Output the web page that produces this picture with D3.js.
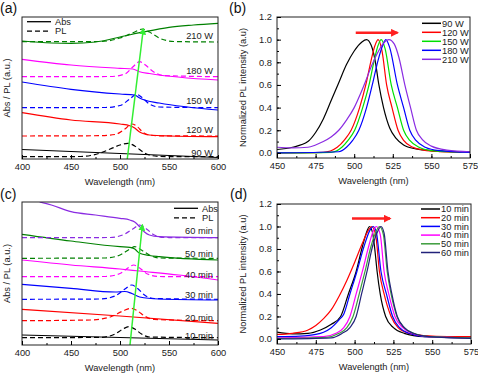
<!DOCTYPE html>
<html>
<head>
<meta charset="utf-8">
<script src="https://cdn.jsdelivr.net/npm/d3@7"></script>
<style>
body { margin: 0; background: #fff; }
svg { font-family: "Liberation Sans", Arial, sans-serif; }
</style>
</head>
<body>
<div id="chart"></div>
<script>
// ---- data ----
var powerLabels = ["90 W", "120 W", "150 W", "180 W", "210 W"];
var timeLabels = ["10 min", "20 min", "30 min", "40 min", "50 min", "60 min"];

// (a) absorbance and PL, stacked, arbitrary units
var absA = [
    [[400, 9.5], [450, 7.5], [500, 5.5], [550, 3.5], [600, 1.5]],
    [[400, 46.3], [450, 39], [500, 35], [510, 33.3], [515, 31], [520, 27], [525, 25], [530, 24], [550, 23], [600, 22.3]],
    [[400, 77], [450, 69.7], [500, 65], [515, 64], [520, 61], [525, 59], [540, 56], [600, 49]],
    [[400, 99.7], [450, 94], [500, 90.7], [513, 90], [520, 87.3], [530, 85.5], [600, 79]],
    [[400, 118], [430, 116], [450, 115.7], [475, 117], [500, 122], [525, 127.3], [550, 131.7], [575, 134], [600, 135.7]]
];
var plA = [
    [[400, 2.3], [460, 2.5], [470, 3.5], [480, 6], [490, 10], [500, 14], [508, 15.7], [515, 13], [520, 9.5], [525, 6], [530, 4], [540, 2.6], [560, 2.3], [600, 2.3]],
    [[400, 23], [480, 23.3], [495, 24.5], [505, 30], [512, 35], [518, 32], [523, 27], [530, 24], [540, 23.2], [600, 23]],
    [[400, 51.3], [485, 51.5], [500, 53.5], [510, 60], [517, 64.7], [523, 61], [530, 55], [540, 52], [600, 51.3]],
    [[400, 82.3], [490, 82.5], [505, 85], [513, 92], [520, 97.3], [526, 94], [533, 88], [545, 83.5], [600, 82.3]],
    [[400, 117.3], [480, 117.5], [500, 121], [515, 127], [523, 130], [530, 127], [540, 121], [555, 117.5], [600, 117]]
];
var labelValA = [6, 29, 58, 88, 123.3];
var guideA = [[507.4, 0], [523.8, 130]];

// (b) normalized PL vs power
var plB = [
    [[450, 0.03], [460, 0.05], [470, 0.1], [475, 0.18], [480, 0.3], [485, 0.46], [490, 0.62], [495, 0.78], [500, 0.9], [505, 0.98], [508, 1.0], [511, 0.95], [513.5, 0.82], [516, 0.6], [519, 0.4], [523, 0.22], [527, 0.13], [532, 0.07], [540, 0.035], [550, 0.02], [575, 0.01]],
    [[450, 0], [480, 0.005], [489, 0.05], [494, 0.12], [498, 0.2], [503.5, 0.4], [507.5, 0.6], [511, 0.82], [513.5, 0.95], [515.5, 1.0], [518, 0.9], [521, 0.6], [524.5, 0.4], [528.4, 0.2], [532, 0.11], [538, 0.05], [545, 0.025], [555, 0.012], [575, 0.005]],
    [[450, 0], [485, 0.005], [492, 0.05], [496, 0.11], [500.3, 0.2], [505.5, 0.4], [509.6, 0.6], [513, 0.82], [515.5, 0.95], [517.5, 1.0], [520, 0.92], [524, 0.6], [528, 0.4], [532, 0.2], [536, 0.11], [542, 0.05], [550, 0.02], [560, 0.01], [575, 0.005]],
    [[450, 0], [490, 0.01], [495, 0.05], [499, 0.11], [503, 0.2], [508, 0.4], [511.7, 0.6], [515.5, 0.82], [518.5, 0.95], [520.5, 1.0], [523, 0.93], [528, 0.6], [532, 0.4], [536, 0.2], [540, 0.11], [546, 0.05], [555, 0.02], [575, 0.005]],
    [[450, 0.05], [460, 0.045], [470, 0.05], [475, 0.07], [480, 0.1], [485, 0.14], [490, 0.2], [495, 0.29], [500, 0.4], [504, 0.52], [507, 0.62], [511, 0.76], [515, 0.88], [519, 0.97], [522.5, 1.0], [526, 0.96], [529, 0.84], [532.8, 0.6], [536.5, 0.4], [540.3, 0.2], [544, 0.12], [550, 0.06], [560, 0.025], [575, 0.01]]
];
var shiftB = [[501, 1.06], [528, 1.06]];

// (c) absorbance and PL vs time
var absC = [
    [[400, 10], [500, 7.5], [600, 5]],
    [[400, 35.7], [500, 29], [600, 21.7]],
    [[400, 60.7], [450, 56.7], [495, 53], [505, 53.5], [512, 51.5], [520, 48], [540, 46], [600, 45]],
    [[400, 85], [450, 80], [500, 76], [520, 74], [560, 70], [600, 65]],
    [[400, 110.7], [450, 104], [500, 98.3], [510, 97.7], [515, 96], [520, 91.7], [530, 89.5], [540, 88.3], [600, 85]],
    [[418, 143], [430, 140], [450, 133.3], [475, 130], [500, 126.7], [510, 125], [515, 123], [520, 118.3], [525, 113], [530, 110], [540, 108.3], [600, 107.3]]
];
var plC = [
    [[400, 7.3], [480, 7.6], [495, 11], [503, 16], [509, 18.3], [515, 16], [522, 11], [530, 8], [600, 7.3]],
    [[400, 24.3], [470, 25], [490, 28], [503, 34], [511, 36.7], [518, 34], [525, 29], [535, 25.5], [600, 24.3]],
    [[400, 45.7], [480, 46], [495, 49], [505, 56], [512, 60], [518, 56.5], [525, 50], [535, 46.5], [600, 45.7]],
    [[400, 68.3], [485, 68.5], [500, 71.5], [508, 77], [514, 80], [520, 77], [528, 71], [540, 68.5], [600, 68.3]],
    [[400, 86.7], [485, 87], [500, 90], [510, 96], [515, 98.3], [521, 95.5], [530, 90], [540, 87], [600, 86.7]],
    [[400, 107.3], [490, 107.5], [505, 111], [513, 116], [520, 120], [527, 116], [535, 110], [545, 107.5], [600, 107.3]]
];
var labelValC = [9.3, 27.3, 50.7, 70.7, 91.3, 114];
var guideC = [[510.2, 0], [522.8, 120]];

// (d) normalized PL vs time
var plD = [
    [[450, 0.06], [460, 0.045], [470, 0.05], [478, 0.08], [485, 0.13], [491, 0.2], [496, 0.4], [501, 0.6], [505, 0.82], [508, 0.96], [509.5, 1.0], [511.5, 0.95], [513, 0.8], [514.5, 0.6], [516.5, 0.4], [520, 0.2], [525, 0.1], [532, 0.05], [545, 0.02], [575, 0.01]],
    [[450, 0.04], [460, 0.05], [470, 0.08], [475, 0.12], [480, 0.18], [485, 0.26], [490, 0.38], [495, 0.52], [500, 0.68], [505, 0.85], [509, 0.97], [511, 1.0], [513.5, 0.93], [516, 0.6], [519, 0.4], [523.5, 0.2], [528, 0.1], [535, 0.05], [545, 0.03], [560, 0.02], [575, 0.02]],
    [[450, 0.02], [465, 0.025], [475, 0.04], [480, 0.06], [485, 0.1], [490, 0.17], [493, 0.22], [497, 0.4], [501.5, 0.6], [506, 0.82], [510, 0.97], [512, 1.0], [514, 0.95], [517, 0.6], [520.5, 0.4], [524.5, 0.2], [529, 0.1], [535, 0.05], [545, 0.02], [575, 0.01]],
    [[450, 0.01], [480, 0.02], [488, 0.05], [493, 0.1], [497, 0.2], [501, 0.4], [505, 0.6], [509, 0.82], [512, 0.96], [514, 1.0], [516.5, 0.93], [519, 0.6], [522, 0.4], [526, 0.2], [531, 0.1], [537, 0.05], [547, 0.02], [575, 0.01]],
    [[450, 0.005], [482, 0.015], [490, 0.05], [495, 0.1], [499, 0.2], [503, 0.4], [506.7, 0.6], [510.5, 0.82], [514, 0.96], [516, 1.0], [518.5, 0.93], [521, 0.6], [523.5, 0.4], [527.3, 0.2], [532, 0.1], [538, 0.05], [548, 0.02], [575, 0.01]],
    [[450, 0], [485, 0.01], [492, 0.05], [497, 0.1], [501, 0.2], [504.5, 0.4], [508, 0.6], [511.5, 0.82], [515, 0.96], [517, 1.0], [519, 0.94], [521.5, 0.6], [524, 0.4], [527.5, 0.2], [532, 0.1], [538, 0.05], [548, 0.02], [575, 0.005]]
];
var shiftD = [[498.3, 1.07], [522.8, 1.07]];

var wlTicksA = [400, 450, 500, 550, 600];
var wlTicksB = [450, 475, 500, 525, 550, 575];
var yTicksB = [0, 0.2, 0.4, 0.6, 0.8, 1.0, 1.2];

// ---- styles ----
var colA = ["#000000", "#ff0000", "#0000ff", "#ff00ff", "#008000"];
var colB = ["#000000", "#ff0000", "#00e000", "#0000ff", "#8a2be2"];
var colC = ["#000000", "#ff0000", "#0000ff", "#ff00ff", "#008000", "#8a2be2"];
var colD = ["#000000", "#ff0000", "#0000ff", "#ff00ff", "#3c9c3c", "#22227a"];
var fontSize = 9.3;
var dash = "5,3";

var svg = d3.select("#chart").append("svg")
    .attr("width", 478)
    .attr("height", 375);

var defs = svg.append("defs");
function addMarker(id, color, size) {
    defs.append("marker")
        .attr("id", id)
        .attr("viewBox", "0 0 10 10")
        .attr("refX", 8).attr("refY", 5)
        .attr("markerWidth", size).attr("markerHeight", size)
        .attr("markerUnits", "userSpaceOnUse")
        .attr("orient", "auto")
        .append("path")
        .attr("d", "M0,0 L10,5 L0,10 z")
        .attr("fill", color);
}
addMarker("headGreen", "#33ee33", 7);
addMarker("headRed", "#ff2020", 8);

function makePanel(id, x, y, w, h, xDomain, yDomain) {
    var g = svg.append("g").attr("transform", "translate(" + x + "," + y + ")");
    defs.append("clipPath").attr("id", "clip" + id)
        .append("rect").attr("width", w).attr("height", h);
    var p = {
        g: g, w: w, h: h,
        x: d3.scaleLinear().domain(xDomain).range([0, w]),
        y: d3.scaleLinear().domain(yDomain).range([h, 0]),
        plot: g.append("g").attr("clip-path", "url(#clip" + id + ")")
    };
    p.line = d3.line()
        .x(function(d) { return p.x(d[0]); })
        .y(function(d) { return p.y(d[1]); })
        .curve(d3.curveMonotoneX);
    return p;
}

function drawXAxis(p, ticks, minorStep) {
    var lo = p.x.domain()[0], hi = p.x.domain()[1];
    p.g.append("g")
        .attr("transform", "translate(0," + p.h + ")")
        .call(d3.axisBottom(p.x).tickValues(d3.range(lo, hi + 0.01, minorStep)).tickSize(-2).tickFormat(""))
        .call(function(a) { a.select(".domain").remove(); });
    var ax = p.g.append("g")
        .attr("transform", "translate(0," + p.h + ")")
        .call(d3.axisBottom(p.x).tickValues(ticks).tickSize(-4).tickPadding(4).tickFormat(d3.format("d")));
    ax.select(".domain").remove();
    ax.selectAll("text").attr("font-size", fontSize).attr("font-family", null).attr("fill", "#222");
    p.g.append("text")
        .attr("x", p.w / 2).attr("y", p.h + 26)
        .attr("text-anchor", "middle")
        .attr("font-size", fontSize)
        .attr("fill", "#222")
        .text("Wavelength (nm)");
}

function drawYAxis(p) {
    p.g.append("g")
        .call(d3.axisLeft(p.y).tickValues(d3.range(0, 1.21, 0.1)).tickSize(-2).tickFormat(""))
        .call(function(a) { a.select(".domain").remove(); });
    var ax = p.g.append("g")
        .call(d3.axisLeft(p.y).tickValues(yTicksB).tickSize(-4).tickPadding(5).tickFormat(d3.format(".1f")));
    ax.select(".domain").remove();
    ax.selectAll("text").attr("font-size", fontSize).attr("font-family", null).attr("fill", "#222");
}

function drawFrame(p) {
    p.g.append("rect")
        .attr("width", p.w).attr("height", p.h)
        .attr("fill", "none").attr("stroke", "#222").attr("stroke-width", 1);
}

function yTitle(p, dx, text) {
    p.g.append("text")
        .attr("transform", "translate(" + dx + "," + (p.h / 2) + ") rotate(-90)")
        .attr("text-anchor", "middle")
        .attr("font-size", fontSize)
        .attr("fill", "#222")
        .text(text);
}

function panelTag(x, y, t) {
    svg.append("text").attr("x", x).attr("y", y)
        .attr("font-size", 14).attr("fill", "#111").text(t);
}

function stackPanel(p, absData, plData, colors, labels, labelVals, guide, legendX) {
    absData.forEach(function(s, i) {
        p.plot.append("path").datum(s)
            .attr("d", p.line).attr("fill", "none")
            .attr("stroke", colors[i]).attr("stroke-width", 1.2);
        p.plot.append("path").datum(plData[i])
            .attr("d", p.line).attr("fill", "none")
            .attr("stroke", colors[i]).attr("stroke-width", 1.2)
            .attr("stroke-dasharray", dash);
        p.g.append("text")
            .attr("x", p.w - 5).attr("y", p.y(labelVals[i]))
            .attr("dy", "0.35em")
            .attr("text-anchor", "end")
            .attr("font-size", fontSize).attr("fill", "#222")
            .text(labels[i]);
    });
    p.g.append("line")
        .attr("x1", p.x(guide[0][0])).attr("y1", p.y(guide[0][1]))
        .attr("x2", p.x(guide[1][0])).attr("y2", p.y(guide[1][1]))
        .attr("stroke", "#33ee33").attr("stroke-width", 1.5)
        .attr("marker-end", "url(#headGreen)");
    // Abs / PL legend
    [["Abs", null], ["PL", dash]].forEach(function(l, i) {
        var ly = (legendX > 100 ? 6.3 : 4.7) + i * 9.5;
        p.g.append("line")
            .attr("x1", legendX).attr("x2", legendX + 24)
            .attr("y1", ly).attr("y2", ly)
            .attr("stroke", "#000").attr("stroke-width", 1.3)
            .attr("stroke-dasharray", l[1]);
        p.g.append("text")
            .attr("x", legendX + 28).attr("y", ly).attr("dy", "0.35em")
            .attr("font-size", fontSize).attr("fill", "#222")
            .text(l[0]);
    });
    drawFrame(p);
}

function normPanel(p, data, colors, labels, shift, legendX, legendY, rowStep) {
    data.forEach(function(s, i) {
        p.plot.append("path").datum(s)
            .attr("d", p.line).attr("fill", "none")
            .attr("stroke", colors[i]).attr("stroke-width", 1.2);
        var ly = legendY + i * rowStep;
        p.g.append("line")
            .attr("x1", legendX).attr("x2", legendX + 19)
            .attr("y1", ly).attr("y2", ly)
            .attr("stroke", colors[i]).attr("stroke-width", 1.5);
        p.g.append("text")
            .attr("x", legendX + 20).attr("y", ly).attr("dy", "0.35em")
            .attr("font-size", fontSize).attr("fill", "#222")
            .text(labels[i]);
    });
    p.g.append("line")
        .attr("x1", p.x(shift[0][0])).attr("y1", p.y(shift[0][1]))
        .attr("x2", p.x(shift[1][0])).attr("y2", p.y(shift[1][1]))
        .attr("stroke", "#ff2020").attr("stroke-width", 2.5)
        .attr("marker-end", "url(#headRed)");
    drawFrame(p);
}

// (a)
var pa = makePanel("a", 22, 17, 196, 142, [400, 600], [0, 142]);
stackPanel(pa, absA, plA, colA, powerLabels, labelValA, guideA, 5);
drawXAxis(pa, wlTicksA, 25);
yTitle(pa, -12, "Abs / PL (a.u.)");

// (b)
var pb = makePanel("b", 277, 17, 193, 141, [450, 575], [-0.045, 1.2]);
normPanel(pb, plB, colB, powerLabels, shiftB, 145, 6.3, 9);
drawXAxis(pb, wlTicksB, 12.5);
drawYAxis(pb);
yTitle(pb, -31, "Normalized PL intensity (a.u)");

// (c)
var pc = makePanel("c", 22, 202, 196, 143, [400, 600], [0, 143]);
stackPanel(pc, absC, plC, colC, timeLabels, labelValC, guideC, 152);
drawXAxis(pc, wlTicksA, 25);
yTitle(pc, -12, "Abs / PL (a.u.)");

// (d)
var pd = makePanel("d", 277, 204, 194, 140, [450, 575], [-0.045, 1.2]);
normPanel(pd, plD, colD, timeLabels, shiftD, 144, 5, 8.7);
drawXAxis(pd, wlTicksB, 12.5);
drawYAxis(pd);
yTitle(pd, -31, "Normalized PL intensity (a.u)");

panelTag(0, 13, "(a)");
panelTag(229, 13, "(b)");
panelTag(0, 199, "(c)");
panelTag(230, 199, "(d)");
</script>
</body>
</html>
